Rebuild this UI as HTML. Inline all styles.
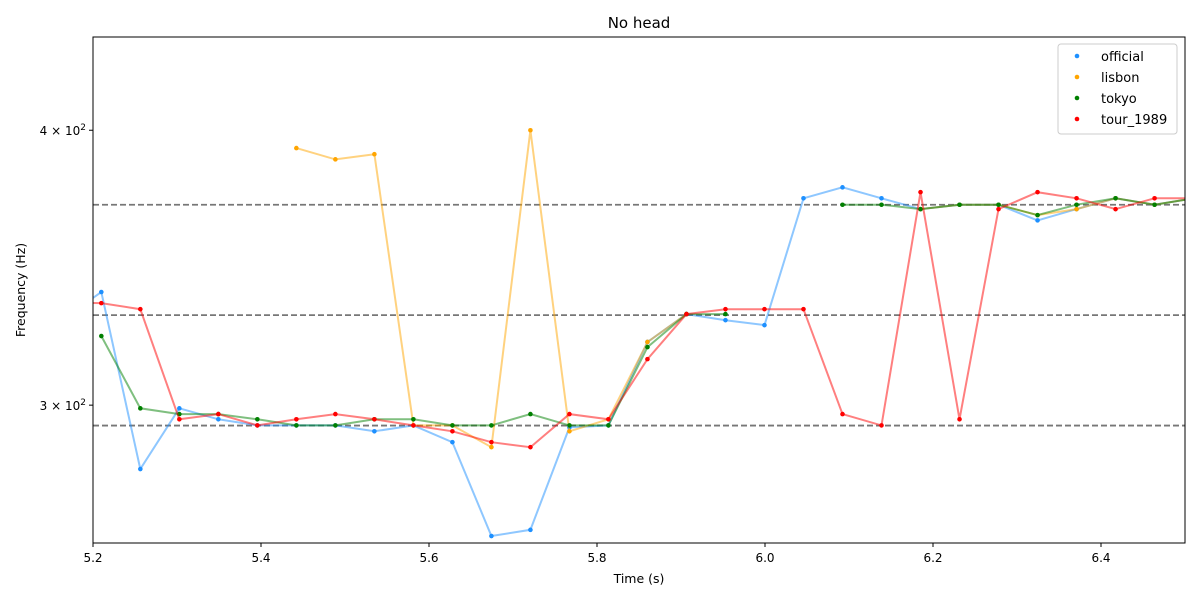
<!DOCTYPE html>
<html><head><meta charset="utf-8"><style>
body{margin:0;background:#fff}
svg{font-family:"DejaVu Sans","Liberation Sans",sans-serif}
</style></head><body>
<svg id="chart" width="1200" height="600" viewBox="0 0 1200 600" xmlns="http://www.w3.org/2000/svg">
<defs><clipPath id="clip"><rect x="93" y="37" width="1092" height="506"/></clipPath></defs>
<rect x="0" y="0" width="1200" height="600" fill="#fff"/>
<text x="639" y="28" text-anchor="middle" font-size="15">No head</text>
<text x="639" y="583" text-anchor="middle" font-size="12.5">Time (s)</text>
<text transform="translate(25,290) rotate(-90)" text-anchor="middle" font-size="12.5">Frequency (Hz)</text>
<g id="grid" clip-path="url(#clip)"></g>
<g id="series" clip-path="url(#clip)"></g>
<g id="axes"></g>
<rect x="93" y="37" width="1092" height="506" fill="none" stroke="#000" stroke-width="1"/>
<g id="legend">
<rect x="1058" y="44" width="119" height="90" fill="#fff" stroke="#ccc" rx="3"/>
</g>
</svg>
<script>
const t0 = 5.2099, dt = 0.04644;
const startIdx = -1;
const official = [328, 337.7, 280.6, 299.0, 295.6, 293.7, 293.7, 293.7, 291.9, 293.7, 288.6, 261.6, 263.3, 293.1, 293.7, 320.5, 330, 327.9, 326.2, 372.5, 376.8, 372.5, 368.3, 370, 370, 364.0, 368.3, 372.5, 370, 372.5];
const lisbon = [null, null, null, null, null, null, 392.6, 388.0, 390.1, 293.7, 293.7, 287.1, 400, 291.9, 295.6, 320.5, 330, null, null, null, null, null, 368.3, 370, 370, 366.0, 368.3, 372.5, 370, 372.5];
const tokyo = [null, 322.5, 299.0, 297.2, 297.2, 295.6, 293.7, 293.7, 295.6, 295.6, 293.7, 293.7, 297.2, 293.7, 293.7, 318.8, 330, 330, null, null, 370, 370, 368.3, 370, 370, 366.0, 370, 372.5, 370, 372.5];
const tour1989 = [334, 333.8, 331.7, 295.6, 297.2, 293.7, 295.6, 297.2, 295.6, 293.7, 291.9, 288.6, 287.1, 297.2, 295.6, 314.8, 330, 331.7, 331.7, 331.7, 297.2, 293.7, 374.9, 295.6, 368.3, 374.9, 372.5, 368.3, 372.5, 372.5];
const refLines = [293.66, 329.63, 369.99];
const xTicks = [5.2, 5.4, 5.6, 5.8, 6.0, 6.2, 6.4];
const xTickLabels = ["5.2", "5.4", "5.6", "5.8", "6.0", "6.2", "6.4"];
const yTicks = [300, 400];
const yTickMant = ["3", "4"];

const NS = "http://www.w3.org/2000/svg";
const X0 = 93, X1 = 1185, Y0 = 37, Y1 = 543;
const xMin = 5.2, xMax = 6.5, yMin = 259.7, yMax = 441;
function xs(t){ return X0 + (t - xMin) / (xMax - xMin) * (X1 - X0); }
function ys(f){ return Y1 - (Math.log10(f) - Math.log10(yMin)) / (Math.log10(yMax) - Math.log10(yMin)) * (Y1 - Y0); }
function mk(tag, attrs, parent){ const e = document.createElementNS(NS, tag); for (const k in attrs) e.setAttribute(k, attrs[k]); parent.appendChild(e); return e; }

const grid = document.getElementById('grid');
refLines.forEach(v => {
  const l = mk('line', {x1: X0, x2: X1, y1: ys(v), y2: ys(v), stroke: '#777', 'stroke-width': 1.8, 'stroke-dasharray': '6,3'}, grid);
  
  
});

const axes = document.getElementById('axes');
xTicks.forEach((t, i) => {
  const x = xs(t);
  const tk = mk('line', {x1: x, x2: x, y1: Y1, y2: Y1 + 4, stroke: '#000'}, axes);
  
  
  const tx = mk('text', {x: x, y: Y1 + 19, 'text-anchor': 'middle', 'font-size': 12}, axes);
  tx.textContent = xTickLabels[i];
  
  
});
yTicks.forEach((v, i) => {
  const y = ys(v);
  const tk = mk('line', {x1: X0 - 4, x2: X0, y1: y, y2: y, stroke: '#000'}, axes);
  
  
  const tx = mk('text', {x: X0 - 7, y: y + 5, 'text-anchor': 'end', 'font-size': 12}, axes);
  
  
  const a = mk('tspan', {}, tx); a.textContent = yTickMant[i] + ' \u00d7 10';
  const b = mk('tspan', {dy: -5, 'font-size': 9}, tx); b.textContent = '2';
});

const seriesDefs = [
  {name: 'official', data: official, color: '#1e90ff'},
  {name: 'lisbon', data: lisbon, color: 'orange'},
  {name: 'tokyo', data: tokyo, color: 'green'},
  {name: 'tour_1989', data: tour1989, color: 'red'}
];
const sg = document.getElementById('series');
seriesDefs.forEach(s => {
  const g = mk('g', {}, sg);
  
  
  let d = '', pen = false;
  s.data.forEach((v, i) => {
    if (v == null) { pen = false; return; }
    const x = xs(t0 + (i + startIdx) * dt), y = ys(v);
    d += (pen ? 'L' : 'M') + x.toFixed(1) + ',' + y.toFixed(1);
    pen = true;
  });
  const p = mk('path', {d: d, fill: 'none', stroke: s.color, 'stroke-opacity': 0.5, 'stroke-width': 2}, g);
  
  
  s.data.forEach((v, i) => {
    if (v == null) return;
    const c = mk('circle', {cx: xs(t0 + (i + startIdx) * dt), cy: ys(v), r: 2.3, fill: s.color}, g);
    
    
  });
});

const lg = document.getElementById('legend');
seriesDefs.forEach((s, i) => {
  const y = 56 + i * 21;
  const c = mk('circle', {cx: 1077, cy: y, r: 2.3, fill: s.color}, lg);
  
  
  const tx = mk('text', {x: 1101, y: y + 5, 'font-size': 13}, lg);
  tx.textContent = s.name;
  
  
});
</script>
</body></html>
